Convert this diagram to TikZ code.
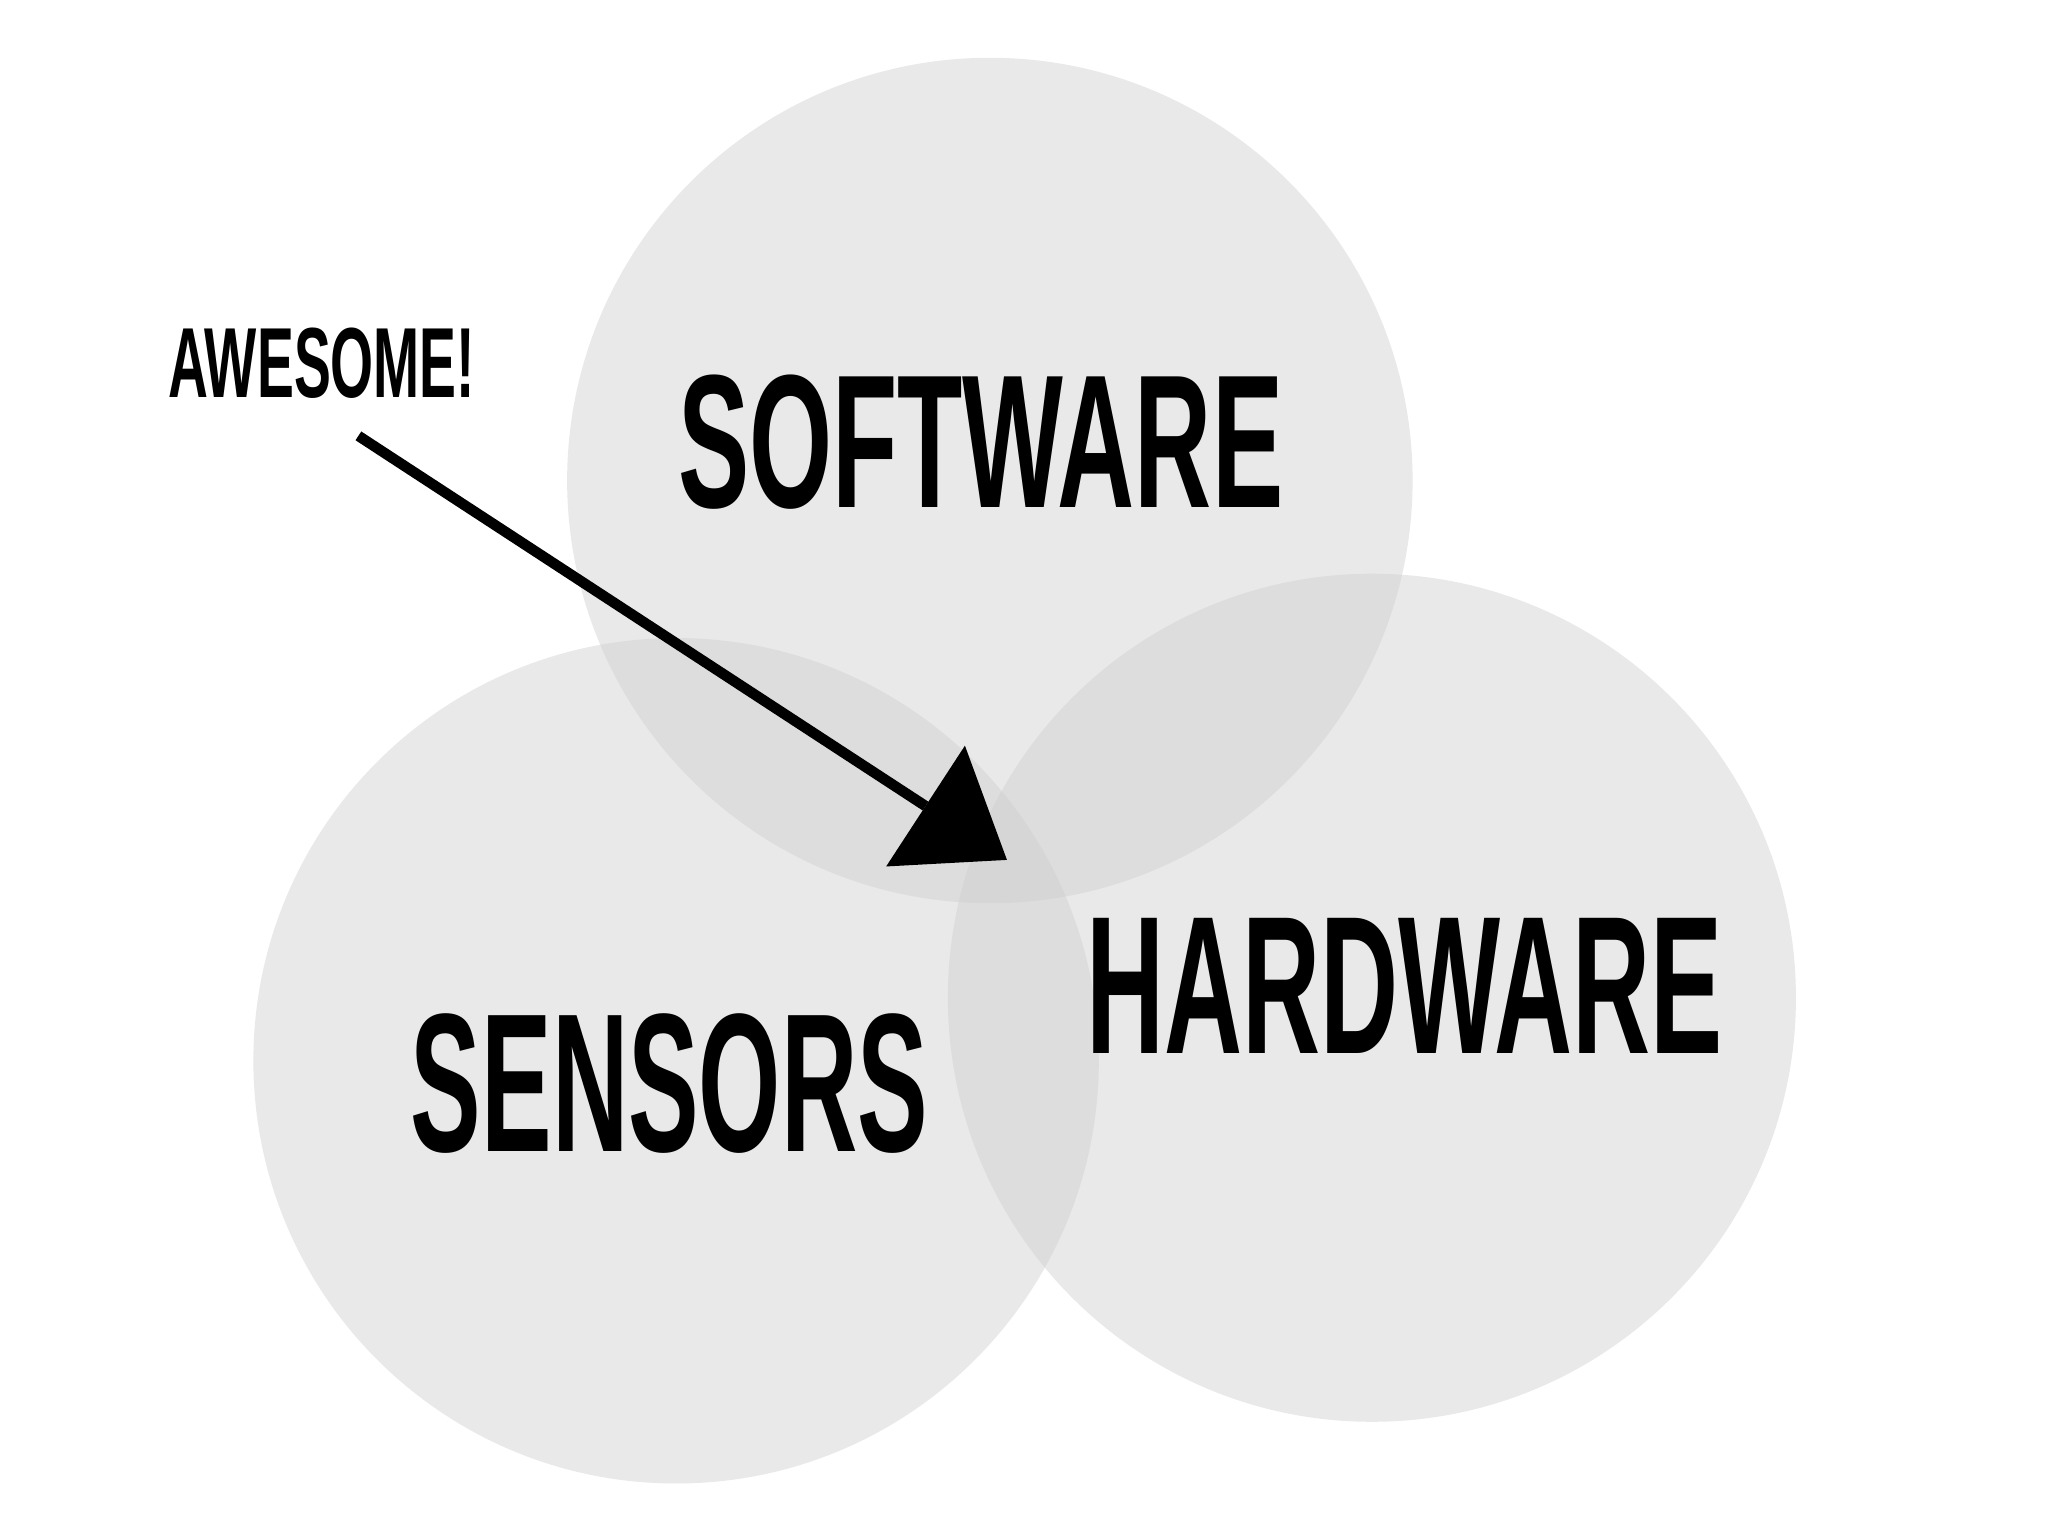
\documentclass[tikz,border=0pt]{standalone}
\usepackage{fontspec}
\setmainfont{Liberation Sans}
\usepackage{graphicx}
\begin{document}
\begin{tikzpicture}[x=0.02cm,y=-0.02cm,
  blob/.style={fill={rgb,255:red,207;green,207;blue,207},fill opacity=0.45,draw=none},
  lbl/.style={inner sep=0pt,anchor=center}]
\useasboundingbox (0,0) rectangle (1560,1170);
\fill[white] (0,0) rectangle (1560,1170);
\path[blob] (754,366) circle (322);
\path[blob] (515,808) circle (322);
\path[blob] (1045,760) circle (323);
\node[lbl] (sw) at (747,337) {\resizebox{9.22cm}{2.02cm}{\bfseries SOFTWARE}};
\node[lbl] (hw) at (1070,751) {\resizebox{9.7cm}{2.06cm}{\bfseries HARDWARE}};
\node[lbl] (se) at (510,825) {\resizebox{7.88cm}{2.1cm}{\bfseries SENSORS}};
\node[lbl] (aw) at (245,277) {\resizebox{4.68cm}{1.06cm}{\bfseries AWESOME!}};
\coordinate (s) at (273,332);
\coordinate (b) at (705,614);
\coordinate (t) at (767,655);
\coordinate (c1) at (735,568);
\coordinate (c2) at (675,660);
\draw[line width=0.16cm] (s) -- (b);
\fill (t) -- (c1) -- (c2) -- cycle;
\end{tikzpicture}
\end{document}
